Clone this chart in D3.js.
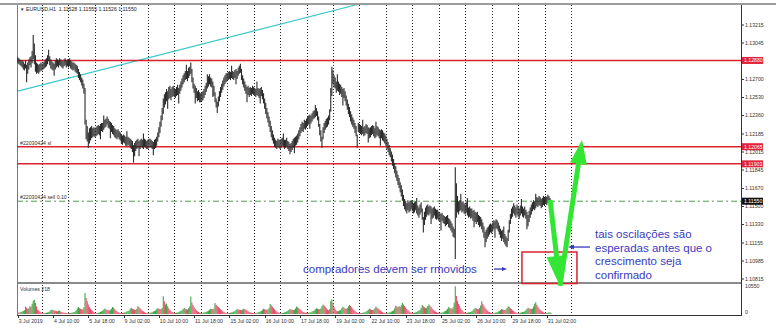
<!DOCTYPE html>
<html>
<head>
<meta charset="utf-8">
<script src="https://cdn.jsdelivr.net/npm/d3@7"></script>
<style>
body { margin: 0; background: #fff; }
svg { display: block; font-family: "Liberation Sans", Arial, sans-serif; }
</style>
</head>
<body>
<div id="chart"></div>
<script>
// EURUSD H1, one value per hourly bar, first bar = 3 Jul 2019 02:00
var headerText = "EURUSD,H1  1.11528 1.11555 1.11526 1.11550";

var highs = [
  1.1291,1.1290,1.1289,1.1288,1.1288,1.1287,1.1285,1.1288,1.1284,1.1286,1.1289,1.1291,1.1292,1.1297,1.1312,1.1304,1.1293,1.1286,1.1285,1.1284,1.1285,1.1286,
  1.1285,1.1286,1.1287,1.1289,1.1290,1.1293,1.1298,1.1292,1.1289,1.1287,1.1286,1.1285,1.1288,1.1290,1.1289,1.1288,1.1290,1.1289,1.1288,1.1287,1.1289,1.1290,1.1288,1.1289,
  1.1289,1.1290,1.1288,1.1287,1.1286,1.1286,1.1285,1.1284,1.1283,1.1280,1.1277,1.1275,1.1272,1.1270,1.1266,1.1262,1.1232,1.1226,1.1220,1.1224,1.1225,1.1226,1.1224,1.1225,
  1.1224,1.1225,1.1226,1.1227,1.1226,1.1228,1.1229,1.1229,1.1236,1.1232,1.1233,1.1235,1.1233,1.1231,1.1230,1.1229,1.1227,1.1226,1.1224,1.1223,1.1222,1.1223,1.1221,1.1220,
  1.1218,1.1217,1.1218,1.1217,1.1216,1.1221,1.1216,1.1215,1.1214,1.1213,1.1212,1.1208,1.1210,1.1212,1.1213,1.1214,1.1212,1.1213,1.1214,1.1213,1.1219,1.1214,1.1213,1.1212,
  1.1213,1.1214,1.1214,1.1213,1.1212,1.1211,1.1213,1.1214,1.1216,1.1220,1.1225,1.1230,1.1236,1.1243,1.1252,1.1256,1.1258,1.1261,1.1259,1.1263,1.1264,1.1261,1.1263,1.1264,
  1.1262,1.1261,1.1263,1.1265,1.1262,1.1265,1.1268,1.1271,1.1274,1.1276,1.1278,1.1284,1.1278,1.1281,1.1282,1.1286,1.1280,1.1272,1.1266,1.1264,1.1262,1.1259,1.1260,1.1258,
  1.1257,1.1258,1.1259,1.1261,1.1264,1.1267,1.1275,1.1273,1.1275,1.1272,1.1271,1.1268,1.1264,1.1258,1.1252,1.1249,1.1254,1.1259,1.1263,1.1266,1.1269,1.1272,1.1274,1.1276,
  1.1276,1.1277,1.1278,1.1277,1.1283,1.1278,1.1277,1.1279,1.1280,1.1278,1.1281,1.1283,1.1285,1.1280,1.1274,1.1271,1.1268,1.1265,1.1263,1.1264,1.1262,1.1263,1.1262,1.1264,
  1.1263,1.1262,1.1261,1.1268,1.1262,1.1261,1.1262,1.1263,1.1260,1.1257,1.1252,1.1248,1.1243,1.1239,1.1235,1.1231,1.1226,1.1222,1.1218,1.1215,1.1213,1.1212,1.1214,1.1213,
  1.1213,1.1214,1.1215,1.1219,1.1213,1.1213,1.1215,1.1212,1.1211,1.1209,1.1210,1.1212,1.1214,1.1215,1.1216,1.1217,1.1219,1.1222,1.1225,1.1228,1.1230,1.1229,1.1232,1.1231,
  1.1233,1.1235,1.1236,1.1237,1.1236,1.1238,1.1240,1.1241,1.1246,1.1243,1.1240,1.1235,1.1228,1.1222,1.1216,1.1225,1.1229,1.1231,1.1233,1.1234,1.1236,1.1242,1.1262,1.1282,
  1.1279,1.1274,1.1272,1.1268,1.1275,1.1268,1.1266,1.1265,1.1263,1.1261,1.1262,1.1259,1.1255,1.1251,1.1247,1.1244,1.1240,1.1237,1.1234,1.1232,1.1229,1.1226,1.1218,1.1229,
  1.1228,1.1227,1.1226,1.1232,1.1225,1.1226,1.1228,1.1227,1.1225,1.1224,1.1225,1.1226,1.1227,1.1226,1.1224,1.1230,1.1226,1.1225,1.1223,1.1222,1.1223,1.1222,1.1220,1.1219,
  1.1217,1.1214,1.1211,1.1208,1.1205,1.1202,1.1199,1.1195,1.1191,1.1188,1.1184,1.1180,1.1177,1.1173,1.1170,1.1166,1.1161,1.1157,1.1155,1.1153,1.1156,1.1154,1.1155,1.1156,
  1.1155,1.1153,1.1154,1.1155,1.1158,1.1151,1.1149,1.1152,1.1154,1.1148,1.1140,1.1145,1.1149,1.1151,1.1152,1.1150,1.1151,1.1150,1.1148,1.1149,1.1150,1.1148,1.1147,1.1147,
  1.1145,1.1144,1.1143,1.1144,1.1142,1.1141,1.1140,1.1141,1.1142,1.1139,1.1138,1.1136,1.1134,1.1131,1.1129,1.1187,1.1172,1.1160,1.1155,1.1156,1.1162,1.1154,1.1155,1.1153,
  1.1152,1.1154,1.1158,1.1149,1.1150,1.1148,1.1148,1.1146,1.1147,1.1145,1.1144,1.1145,1.1142,1.1141,1.1140,1.1138,1.1135,1.1131,1.1126,1.1128,1.1130,1.1131,1.1133,1.1134,
  1.1133,1.1135,1.1137,1.1136,1.1138,1.1137,1.1135,1.1132,1.1129,1.1127,1.1128,1.1131,1.1124,1.1122,1.1120,1.1128,1.1137,1.1143,1.1148,1.1150,1.1153,1.1151,1.1149,1.1152,
  1.1150,1.1148,1.1151,1.1157,1.1150,1.1148,1.1150,1.1147,1.1145,1.1142,1.1146,1.1149,1.1152,1.1154,1.1156,1.1155,1.1162,1.1159,1.1158,1.1160,1.1159,1.1157,1.1158,1.1160,
  1.1159,1.1160,1.1159,1.1161,1.1160,1.1158,1.11555
];

var lows = [
  1.1286,1.1285,1.1284,1.1283,1.1282,1.1280,1.1279,1.1281,1.1268,1.1276,1.1280,1.1284,1.1282,1.1286,1.1290,1.1285,1.1278,1.1276,1.1277,1.1276,1.1278,1.1279,
  1.1279,1.1280,1.1281,1.1282,1.1283,1.1285,1.1288,1.1284,1.1281,1.1280,1.1279,1.1274,1.1280,1.1282,1.1283,1.1282,1.1284,1.1283,1.1282,1.1281,1.1283,1.1284,1.1282,1.1283,
  1.1282,1.1283,1.1281,1.1280,1.1279,1.1280,1.1278,1.1277,1.1276,1.1272,1.1270,1.1268,1.1265,1.1262,1.1257,1.1228,1.1214,1.1212,1.1206,1.1210,1.1213,1.1215,1.1216,1.1217,
  1.1216,1.1217,1.1218,1.1219,1.1218,1.1214,1.1222,1.1221,1.1223,1.1225,1.1226,1.1228,1.1225,1.1224,1.1215,1.1221,1.1219,1.1218,1.1216,1.1215,1.1214,1.1216,1.1214,1.1213,
  1.1210,1.1209,1.1211,1.1210,1.1208,1.1207,1.1209,1.1208,1.1206,1.1205,1.1202,1.1192,1.1198,1.1203,1.1205,1.1206,1.1198,1.1205,1.1207,1.1206,1.1205,1.1207,1.1206,1.1205,
  1.1205,1.1206,1.1207,1.1206,1.1205,1.1199,1.1205,1.1206,1.1208,1.1212,1.1216,1.1220,1.1226,1.1232,1.1238,1.1244,1.1247,1.1250,1.1243,1.1252,1.1253,1.1251,1.1254,1.1255,
  1.1254,1.1253,1.1255,1.1256,1.1248,1.1257,1.1260,1.1263,1.1266,1.1268,1.1270,1.1271,1.1269,1.1272,1.1274,1.1276,1.1268,1.1262,1.1258,1.1248,1.1253,1.1250,1.1251,1.1249,
  1.1249,1.1250,1.1251,1.1253,1.1256,1.1259,1.1262,1.1264,1.1266,1.1264,1.1263,1.1254,1.1255,1.1249,1.1244,1.1239,1.1245,1.1250,1.1254,1.1258,1.1261,1.1264,1.1266,1.1268,
  1.1269,1.1270,1.1271,1.1270,1.1272,1.1271,1.1270,1.1272,1.1266,1.1271,1.1274,1.1276,1.1277,1.1270,1.1266,1.1263,1.1260,1.1257,1.1249,1.1256,1.1254,1.1256,1.1255,1.1257,
  1.1256,1.1255,1.1254,1.1256,1.1255,1.1253,1.1248,1.1255,1.1252,1.1248,1.1243,1.1238,1.1234,1.1230,1.1226,1.1221,1.1216,1.1213,1.1210,1.1207,1.1206,1.1205,1.1207,1.1206,
  1.1205,1.1206,1.1208,1.1207,1.1205,1.1206,1.1207,1.1205,1.1203,1.1200,1.1202,1.1204,1.1206,1.1201,1.1208,1.1209,1.1211,1.1214,1.1217,1.1220,1.1222,1.1221,1.1224,1.1223,
  1.1225,1.1227,1.1228,1.1224,1.1229,1.1231,1.1233,1.1234,1.1235,1.1236,1.1232,1.1226,1.1218,1.1212,1.1206,1.1214,1.1220,1.1223,1.1225,1.1226,1.1228,1.1232,1.1240,1.1255,
  1.1266,1.1263,1.1262,1.1258,1.1260,1.1259,1.1256,1.1257,1.1254,1.1246,1.1253,1.1250,1.1246,1.1242,1.1238,1.1235,1.1231,1.1228,1.1226,1.1224,1.1220,1.1217,1.1206,1.1221,
  1.1220,1.1219,1.1218,1.1219,1.1217,1.1218,1.1220,1.1219,1.1211,1.1215,1.1216,1.1218,1.1219,1.1217,1.1215,1.1216,1.1218,1.1217,1.1215,1.1208,1.1215,1.1213,1.1212,1.1210,
  1.1208,1.1205,1.1202,1.1199,1.1197,1.1193,1.1189,1.1186,1.1182,1.1178,1.1175,1.1171,1.1168,1.1164,1.1160,1.1156,1.1151,1.1148,1.1146,1.1144,1.1147,1.1145,1.1146,1.1148,
  1.1146,1.1144,1.1145,1.1147,1.1144,1.1142,1.1140,1.1143,1.1145,1.1138,1.1126,1.1133,1.1138,1.1141,1.1143,1.1142,1.1144,1.1134,1.1139,1.1140,1.1142,1.1139,1.1138,1.1139,
  1.1137,1.1136,1.1128,1.1137,1.1135,1.1134,1.1132,1.1133,1.1134,1.1131,1.1130,1.1128,1.1126,1.1122,1.1121,1.1101,1.1140,1.1145,1.1143,1.1146,1.1147,1.1145,1.1146,1.1144,
  1.1143,1.1145,1.1142,1.1140,1.1141,1.1139,1.1140,1.1137,1.1131,1.1136,1.1134,1.1136,1.1133,1.1131,1.1132,1.1129,1.1126,1.1121,1.1112,1.1117,1.1120,1.1122,1.1124,1.1126,
  1.1125,1.1127,1.1129,1.1121,1.1130,1.1129,1.1127,1.1124,1.1121,1.1118,1.1120,1.1117,1.1115,1.1113,1.1112,1.1118,1.1126,1.1134,1.1139,1.1141,1.1144,1.1142,1.1140,1.1143,
  1.1141,1.1139,1.1142,1.1144,1.1141,1.1140,1.1142,1.1139,1.1129,1.1132,1.1136,1.1140,1.1143,1.1146,1.1148,1.1147,1.1149,1.1151,1.1150,1.1152,1.1151,1.1149,1.1150,1.1152,
  1.1151,1.1153,1.1152,1.1154,1.1153,1.1152,1.11526
];

var volumes = [
  600,500,700,800,900,1100,1400,2800,2400,1900,2200,3000,2600,3900,5000,5400,4100,2900,1600,1300,900,700,
  500,400,300,400,500,600,700,900,1500,1700,1400,1300,1200,1100,1000,1300,1200,900,700,600,500,500,400,300,
  500,400,400,500,600,800,900,1400,2100,2600,2200,2000,1800,1700,2500,7900,6000,4800,3600,2600,2000,1500,1100,800,
  400,300,400,500,600,800,1000,1200,1700,2100,1800,1500,1400,1300,1600,2000,2600,2400,1800,1300,1000,800,600,400,
  400,400,500,600,700,900,1100,1300,2000,2400,2000,1800,1600,1500,2000,2900,2500,2100,1600,1200,900,700,500,400,
  500,400,500,600,700,900,1100,1300,1800,2200,2000,1900,1800,2400,6700,4800,3600,4000,2900,2200,1500,1100,800,600,
  500,400,500,600,700,900,1200,1400,1900,2300,2000,1800,1700,2200,2800,6600,4300,3400,2500,2000,1400,1000,800,600,
  400,400,500,600,700,800,1000,1200,1600,2000,1900,1800,2100,4100,3500,3000,2600,2200,1800,1400,1000,800,600,400,
  400,300,400,500,600,700,900,1000,1500,1900,1700,1600,1500,1400,1700,2000,1800,1600,1300,1000,800,600,500,400,
  400,300,400,500,600,800,900,1100,1600,2000,1800,1700,1600,1700,2300,3800,3300,2800,2300,1800,1300,900,700,500,
  400,300,400,500,600,700,900,1100,1500,1900,1700,1600,1500,1600,2100,2800,2500,2200,1800,1400,1000,800,600,500,
  500,400,500,600,700,900,1100,1300,1800,2200,2000,1900,1800,2100,3000,3600,3200,2700,2200,1700,1400,1800,4800,5600,
  4200,2600,1800,1200,1000,1100,1300,1500,2200,2700,2400,2100,1900,2300,2900,3400,3000,2500,2000,1500,1100,800,600,400,
  400,300,400,500,600,700,900,1100,1600,2000,1800,1600,1500,1600,2200,2800,2400,2100,1700,1300,1000,700,500,400,
  500,400,500,600,700,900,1100,1400,2200,3100,2800,2500,2900,2600,3300,4100,3600,3000,2500,1900,1400,1000,700,500,
  500,400,500,600,800,1000,1200,1500,2300,3400,2900,2500,2200,2400,3000,3600,3100,2600,2100,1600,1200,900,700,500,
  500,400,500,600,700,900,1100,1400,2000,2600,2300,2100,2000,2500,4200,10500,6800,5000,3900,3000,2200,1500,1000,700,
  500,400,500,600,700,800,1000,1300,1900,2400,2100,1900,1800,2200,3200,4800,3900,3100,2400,1800,1300,900,700,500,
  400,300,400,500,600,700,900,1100,1500,1900,1700,1600,1500,1700,2300,2900,2600,2200,1800,1400,1100,800,600,400,
  400,400,500,600,700,800,1000,1300,1900,2400,2100,2000,1900,2100,2800,3900,4400,3500,2700,2100,1600,1200,900,600,
  400,300,400,500,600,700,218
];

var priceTicks = [1.13215, 1.13045, 1.12875, 1.12700, 1.12530, 1.12360, 1.12185, 1.12015, 1.11845, 1.11670, 1.11500, 1.11330, 1.11155, 1.10985, 1.10815];
var timeLabels = ["3 Jul 2019", "4 Jul 10:00", "5 Jul 18:00", "9 Jul 02:00", "10 Jul 10:00", "11 Jul 18:00", "15 Jul 02:00", "16 Jul 10:00",
                  "17 Jul 18:00", "19 Jul 02:00", "22 Jul 10:00", "23 Jul 18:00", "25 Jul 02:00", "26 Jul 10:00", "29 Jul 18:00", "31 Jul 02:00"];
var timeLabelBars = [0, 32, 64, 96, 128, 160, 192, 224, 256, 288, 320, 352, 384, 416, 448, 480];
var dayStartBars = [22, 46, 70, 94, 118, 142, 166, 190, 214, 238, 262, 286, 310, 334, 358, 382, 406, 430, 454, 478, 502];

var redLevels = [1.12880, 1.12065, 1.11903];
var orderPrice = 1.11550;
var volumeMax = 10550;
var trendBars = [0, 320];
var trendPrices = [1.1259, 1.1344];

var svgWidth = 776;
var svgHeight = 331;
var plotLeft = 17, plotRight = 741, mainTop = 5, mainBottom = 282, volTop = 285, volBottom = 315;

var x = d3.scaleLinear().domain([0, 502]).range([17.8, 571]);
var y = d3.scaleLinear().domain([1.13215, 1.10815]).range([25, 279]);
var yVol = d3.scaleLinear().domain([0, volumeMax]).range([314, 286]);

var blue = "#3a3abf";
var red = "#d9232e";
var green = "#33e633";

var svg = d3.select("#chart").append("svg")
    .attr("width", svgWidth)
    .attr("height", svgHeight);

var defs = svg.append("defs");
defs.append("clipPath").attr("id", "mainClip").append("rect")
    .attr("x", plotLeft).attr("y", mainTop).attr("width", plotRight - plotLeft).attr("height", mainBottom - mainTop);
defs.append("clipPath").attr("id", "volClip").append("rect")
    .attr("x", plotLeft).attr("y", volTop).attr("width", plotRight - plotLeft).attr("height", volBottom - volTop);

// frame
svg.append("rect").attr("x", 0).attr("y", 3).attr("width", svgWidth).attr("height", 2).attr("fill", "#9c9c9c");
svg.append("rect").attr("x", plotLeft).attr("y", mainBottom).attr("width", plotRight - plotLeft + 1).attr("height", 2).attr("fill", "#8a8a8a");
svg.append("line").attr("x1", plotLeft + 0.5).attr("x2", plotLeft + 0.5).attr("y1", mainTop).attr("y2", volBottom)
    .attr("stroke", "#777").attr("stroke-width", 1);
svg.append("line").attr("x1", plotRight + 0.5).attr("x2", plotRight + 0.5).attr("y1", mainTop).attr("y2", volBottom + 0.5)
    .attr("stroke", "#333").attr("stroke-width", 1);
svg.append("line").attr("x1", plotLeft).attr("x2", plotRight + 1).attr("y1", volBottom + 0.5).attr("y2", volBottom + 0.5)
    .attr("stroke", "#333").attr("stroke-width", 1);

// day separators
var grid = svg.append("g");
[[mainTop, mainBottom], [volTop, volBottom]].forEach(function(span) {
    grid.selectAll(null)
        .data(dayStartBars)
        .enter().append("line")
        .attr("x1", d => Math.round(x(d)) + 0.5)
        .attr("x2", d => Math.round(x(d)) + 0.5)
        .attr("y1", span[0])
        .attr("y2", span[1])
        .attr("stroke", "#222")
        .attr("stroke-width", 1)
        .attr("stroke-dasharray", "1,2");
});

var main = svg.append("g").attr("clip-path", "url(#mainClip)");

// trend line
main.append("line")
    .attr("x1", x(trendBars[0])).attr("y1", y(trendPrices[0]))
    .attr("x2", x(trendBars[1])).attr("y2", y(trendPrices[1]))
    .attr("stroke", "#3cc8cc").attr("stroke-width", 1.1);

// horizontal levels
main.selectAll("line.level")
    .data(redLevels)
    .enter().append("line")
    .classed("level", true)
    .attr("x1", plotLeft).attr("x2", plotRight)
    .attr("y1", d => y(d)).attr("y2", d => y(d))
    .attr("stroke", red).attr("stroke-width", 1.5);

main.append("line")
    .attr("x1", plotLeft).attr("x2", plotRight)
    .attr("y1", y(orderPrice)).attr("y2", y(orderPrice))
    .attr("stroke", "#4f9f4f").attr("stroke-width", 1)
    .attr("stroke-dasharray", "6,3,2,3");

// price bars
main.selectAll("line.bar")
    .data(highs)
    .enter().append("line")
    .classed("bar", true)
    .attr("x1", (d, i) => x(i))
    .attr("x2", (d, i) => x(i))
    .attr("y1", d => y(d))
    .attr("y2", (d, i) => y(lows[i]) + 0.6)
    .attr("stroke", "#2a2a2a")
    .attr("stroke-width", 1.1);

// volumes
svg.append("g").attr("clip-path", "url(#volClip)")
    .selectAll("line")
    .data(volumes)
    .enter().append("line")
    .attr("x1", (d, i) => x(i))
    .attr("x2", (d, i) => x(i))
    .attr("y1", yVol(0))
    .attr("y2", d => yVol(d))
    .attr("stroke", (d, i) => (i > 0 && d > volumes[i - 1]) ? "#3fa844" : "#e4506a")
    .attr("stroke-width", 1.1);

// left labels
var smallFont = 5.2;
svg.append("text").attr("x", 20).attr("y", 11).attr("font-size", 4.5).attr("fill", "#222").text("\u25BC");
svg.append("text").attr("x", 26).attr("y", 11).attr("font-size", smallFont).attr("fill", "#222")
    .attr("xml:space", "preserve").text(headerText);
svg.append("text").attr("x", 20).attr("y", y(redLevels[1]) - 2).attr("font-size", smallFont).attr("fill", "#333").text("#22030424 sl");
svg.append("text").attr("x", 20).attr("y", y(orderPrice) - 2).attr("font-size", smallFont).attr("fill", "#333").text("#22030424 sell 0.10");
svg.append("text").attr("x", 20).attr("y", 291).attr("font-size", smallFont).attr("fill", "#333").text("Volumes 218");

// right price axis
var axisR = svg.append("g");
axisR.selectAll("line")
    .data(priceTicks)
    .enter().append("line")
    .attr("x1", plotRight + 1).attr("x2", plotRight + 3)
    .attr("y1", d => y(d)).attr("y2", d => y(d))
    .attr("stroke", "#333");
axisR.selectAll("text")
    .data(priceTicks)
    .enter().append("text")
    .attr("x", plotRight + 4)
    .attr("y", d => y(d) + 1.8)
    .attr("font-size", smallFont)
    .attr("fill", "#333")
    .text(d => d.toFixed(5));

function priceTag(price, fill) {
    var g = svg.append("g");
    g.append("rect").attr("x", plotRight + 1).attr("y", y(price) - 3.5).attr("width", 21).attr("height", 7).attr("fill", fill);
    g.append("text").attr("x", plotRight + 3).attr("y", y(price) + 1.8)
        .attr("font-size", smallFont).attr("fill", "#fff").text(price.toFixed(5));
}
redLevels.forEach(p => priceTag(p, "#e0223a"));
priceTag(orderPrice, "#111");

svg.append("text").attr("x", plotRight + 4).attr("y", yVol(volumeMax) + 2).attr("font-size", smallFont).attr("fill", "#333").text(volumeMax);
svg.append("text").attr("x", plotRight + 4).attr("y", yVol(0)).attr("font-size", smallFont).attr("fill", "#333").text("0");

// time axis
var axisB = svg.append("g");
axisB.selectAll("line")
    .data(timeLabelBars)
    .enter().append("line")
    .attr("x1", d => Math.round(x(d)) + 0.5).attr("x2", d => Math.round(x(d)) + 0.5)
    .attr("y1", volBottom).attr("y2", volBottom + 3)
    .attr("stroke", "#333");
axisB.selectAll("text")
    .data(timeLabelBars)
    .enter().append("text")
    .attr("x", d => x(d) + 1)
    .attr("y", 323)
    .attr("font-size", smallFont)
    .attr("fill", "#333")
    .text((d, i) => timeLabels[i]);

// annotations
var ann = svg.append("g");
ann.append("rect")
    .attr("x", x(457.5)).attr("y", y(1.11070))
    .attr("width", x(507.4) - x(457.5)).attr("height", y(1.10772) - y(1.11070))
    .attr("fill", "none").attr("stroke", red).attr("stroke-width", 1.5);

function arrow(g, b0, p0, b1, p1, color, shaft, headLen, headWidth) {
    var x0 = x(b0), y0 = y(p0), x1 = x(b1), y1 = y(p1);
    var dx = x1 - x0, dy = y1 - y0, len = Math.sqrt(dx * dx + dy * dy);
    var ux = dx / len, uy = dy / len;
    var bx = x1 - ux * headLen, by = y1 - uy * headLen;
    g.append("line").attr("x1", x0).attr("y1", y0).attr("x2", bx + ux).attr("y2", by + uy)
        .attr("stroke", color).attr("stroke-width", shaft);
    g.append("path")
        .attr("d", "M" + x1 + "," + y1 +
            "L" + (bx - uy * headWidth / 2) + "," + (by + ux * headWidth / 2) +
            "L" + (bx + uy * headWidth / 2) + "," + (by - ux * headWidth / 2) + "Z")
        .attr("fill", color);
}

arrow(ann, 483, 1.11561, 492, 1.10749, green, 5, 30, 20);
arrow(ann, 492, 1.10749, 512, 1.12128, green, 5, 24, 17);
arrow(ann, 432.1, 1.10909, 443.9, 1.10909, blue, 1.3, 5, 4);
arrow(ann, 519.2, 1.11117, 499.3, 1.11117, blue, 1.3, 6, 4.5);

ann.append("text")
    .attr("x", x(258.8)).attr("y", y(1.10872))
    .attr("font-size", 11.5).attr("fill", blue)
    .text("compradores devem ser rmovidos");

var noteLines = ["tais oscilações são", "esperadas antes que o", "crescimento seja", "confirmado"];
var note = ann.append("text")
    .attr("x", x(523.8)).attr("y", y(1.11202))
    .attr("font-size", 11.5).attr("fill", blue);
note.selectAll("tspan")
    .data(noteLines)
    .enter().append("tspan")
    .attr("x", x(523.8))
    .attr("dy", (d, i) => i == 0 ? 0 : 13.6)
    .text(d => d);
</script>
</body>
</html>
